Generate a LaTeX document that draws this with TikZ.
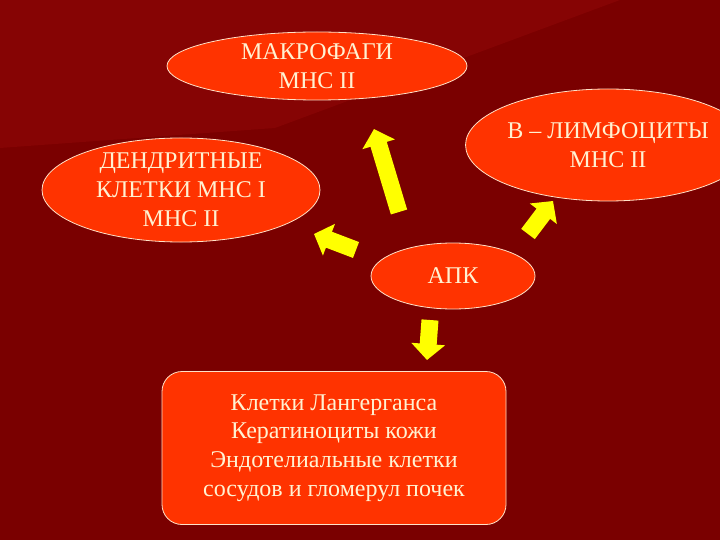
\documentclass[tikz,border=0pt]{standalone}
\usepackage{fontspec}
\setmainfont{Liberation Serif}
\usetikzlibrary{shapes.geometric,arrows.meta}

\definecolor{slidebg}{RGB}{122,0,0}
\definecolor{slidebgtop}{RGB}{134,4,4}
\definecolor{cellfill}{RGB}{255,51,0}
\definecolor{celltext}{RGB}{255,242,210}
\definecolor{celledge}{RGB}{255,226,200}
\definecolor{arrowyel}{RGB}{255,255,0}

\tikzset{
  cell/.style={ellipse, draw=celledge, line width=0.8pt, fill=cellfill,
    text=celltext, align=center, inner sep=0pt,
    font=\fontsize{24}{28.8}\selectfont},
  bigarrow/.style={draw=arrowyel, line width=17pt,
    -{Triangle[width=33pt,length=16pt]}}
}

\begin{document}
\begin{tikzpicture}[x=1pt, y=-1pt]
    \useasboundingbox (0,0) rectangle (720,540);
    \fill[slidebg] (0,0) rectangle (720,540);
    \fill[slidebgtop] (0,0) -- (620,0) -- (275,128) -- (0,148) -- cycle;

    \node[cell, minimum width=300pt, minimum height=68pt] (mac) at (317, 66) {МАКРОФАГИ\\МНС II};
    \node[cell, minimum width=220pt, minimum height=112pt] (bly) at (608, 145) {В – ЛИМФОЦИТЫ\\МНС II};
    \node[cell, minimum width=278pt, minimum height=102pt] (den) at (181, 190) {ДЕНДРИТНЫЕ\\КЛЕТКИ МНС I\\МНС II};
    \node[cell, minimum width=164pt, minimum height=66pt] (apk) at (453, 276) {АПК};
    \node[cell, rectangle, rounded corners=20pt, minimum width=344pt, minimum height=153pt] (src) at (334, 448)
        {Клетки Лангерганса\\Кератиноциты кожи\\Эндотелиальные клетки\\сосудов и гломерул почек};

    \coordinate (macTail) at (399, 212);
    \coordinate (macTip) at (374, 129);
    \coordinate (denTail) at (356, 250);
    \coordinate (denTip) at (314, 234);
    \coordinate (blyTail) at (528, 234);
    \coordinate (blyTip) at (553, 201);
    \coordinate (srcTail) at (430, 320);
    \coordinate (srcTip) at (427, 360);

    \draw[bigarrow] (macTail) -- (macTip);
    \draw[bigarrow] (denTail) -- (denTip);
    \draw[bigarrow] (blyTail) -- (blyTip);
    \draw[bigarrow] (srcTail) -- (srcTip);
\end{tikzpicture}
\end{document}
